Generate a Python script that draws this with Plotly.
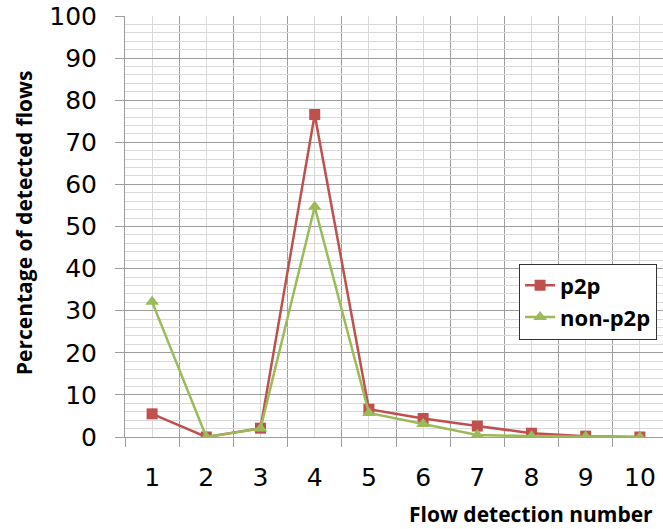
import plotly.graph_objects as go

# Flow detection number (x) and percentage of detected flows per class
detection_number = [1, 2, 3, 4, 5, 6, 7, 8, 9, 10]
p2p_pct = [5.5, 0.0, 2.1, 76.6, 6.6, 4.4, 2.6, 0.9, 0.2, 0.0]
non_p2p_pct = [32.1, 0.0, 2.0, 54.7, 5.7, 3.1, 0.5, 0.2, 0.1, 0.0]
y_ticks = [0, 10, 20, 30, 40, 50, 60, 70, 80, 90, 100]
category_edges = [i + 0.5 for i in range(0, 11)]

RED = "#C0504D"
GREEN = "#9BBB59"
DARK_GRID = "#9e9e9e"
LIGHT_GRID = "#d9d9d9"
TICK_FONT = dict(family="DejaVu Sans", size=25, color="#000000")
TITLE_FONT = dict(family="Open Sans", size=21, color="#000000", weight="bold")

fig = go.Figure()
fig.add_trace(go.Scatter(
    x=detection_number, y=p2p_pct, name="p2p", mode="lines+markers",
    line=dict(color=RED, width=2.5),
    marker=dict(symbol="square", size=11, color=RED),
    legendgroup="a",
))
fig.add_trace(go.Scatter(
    x=detection_number, y=non_p2p_pct, name="non-p2p", mode="lines+markers",
    line=dict(color=GREEN, width=2.5),
    marker=dict(symbol="triangle-up", size=12, color=GREEN),
    legendgroup="b",
))

fig.update_layout(
    width=663, height=529,
    margin=dict(l=125, r=0, t=16, b=92),
    paper_bgcolor="white", plot_bgcolor="white",
    showlegend=True,
    legend=dict(
        x=0.989, y=0.412, xanchor="right", yanchor="top",
        bgcolor="white", bordercolor="#333333", borderwidth=1,
        font=dict(family="Open Sans", size=22, color="#000000", weight="bold"),
        tracegroupgap=0, itemwidth=30,
    ),
    xaxis=dict(
        range=[0.5, 10.426],
        tickmode="array", tickvals=detection_number,
        ticktext=[str(v) for v in detection_number],
        ticks="", tickfont=TICK_FONT, ticklabelstandoff=18,
        showgrid=True, gridcolor=LIGHT_GRID, gridwidth=1,
        showline=True, linecolor=DARK_GRID, linewidth=1,
        zeroline=False,
        minor=dict(tickmode="array", tickvals=category_edges,
                   ticks="outside", ticklen=9, tickcolor=DARK_GRID,
                   showgrid=True, gridcolor=DARK_GRID, gridwidth=1),
    ),
    yaxis=dict(
        range=[0, 100],
        tickmode="array", tickvals=y_ticks,
        ticks="outside", ticklen=9, tickcolor=DARK_GRID,
        tickfont=TICK_FONT, ticklabelstandoff=13,
        showgrid=True, gridcolor=DARK_GRID, gridwidth=1,
        showline=True, linecolor=DARK_GRID, linewidth=1,
        zeroline=False,
        minor=dict(dtick=2, tick0=0, showgrid=True,
                   gridcolor=LIGHT_GRID, gridwidth=1, ticks=""),
    ),
    annotations=[
        dict(text="Flow detection number", xref="paper", yref="paper",
             x=1, y=-0.183, xanchor="right", yanchor="middle", xshift=-8,
             showarrow=False, font=TITLE_FONT),
        dict(text="Percentage of detected flows", xref="paper", yref="paper",
             x=-0.1877, y=0.508, xanchor="center", yanchor="middle",
             textangle=-90, showarrow=False, font=TITLE_FONT),
    ],
)

fig.write_html("out.html")
